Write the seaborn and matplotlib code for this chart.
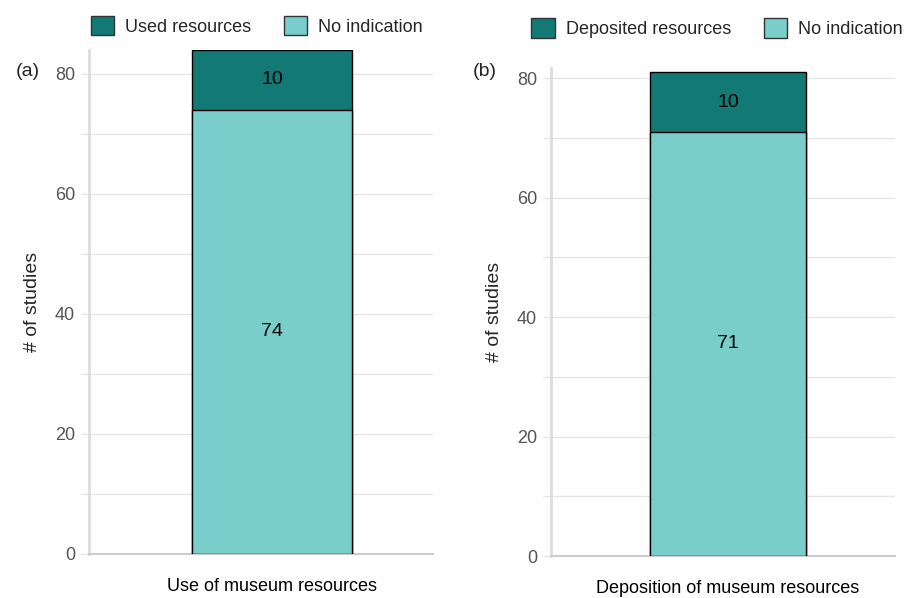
import matplotlib
matplotlib.use("Agg")
import matplotlib.pyplot as plt
from matplotlib.patches import Patch
import seaborn as sns
import pandas as pd

sns.set_theme(style="white")
plt.rcParams["font.family"] = ["Liberation Sans", "DejaVu Sans"]

# Panel (a): use of museum resources
cat_a = ["Use of museum resources"]
used_a = [10]
noind_a = [74]
legend_a = ["Used resources", "No indication"]

# Panel (b): deposition of museum resources
cat_b = ["Deposition of museum resources"]
dep_b = [10]
noind_b = [71]
legend_b = ["Deposited resources", "No indication"]

panel_tags = ["(a)", "(b)"]
y_ticks = [0, 20, 40, 60, 80]

DARK = "#137975"
LIGHT = "#79CECB"
GRID = "#e6e6e6"
TICKTXT = "#555555"

fig = plt.figure(figsize=(9.11, 5.98), dpi=100)
ax_a = fig.add_axes([0.0977, 0.0736, 0.3776, 0.8428])
ax_b = fig.add_axes([0.6048, 0.0702, 0.3776, 0.8160])


def draw_panel(ax, cats, top_vals, base_vals, labels, xlim, ylim):
    totals = [t + b for t, b in zip(top_vals, base_vals)]
    df_tot = pd.DataFrame({"cat": cats, "n": totals})
    df_base = pd.DataFrame({"cat": cats, "n": base_vals})
    sns.barplot(data=df_tot, x="cat", y="n", color=DARK, saturation=1,
                width=0.8, edgecolor="black", linewidth=1.0, ax=ax, zorder=3)
    sns.barplot(data=df_base, x="cat", y="n", color=LIGHT, saturation=1,
                width=0.8, edgecolor="black", linewidth=1.0, ax=ax, zorder=3)
    for b, t in zip(base_vals, top_vals):
        ax.text(0, b / 2, f"{b}", ha="center", va="center", fontsize=14,
                color="black", zorder=5)
        ax.text(0, b + t / 2, f"{t}", ha="center", va="center", fontsize=14,
                color="black", zorder=5)

    ax.set_xlim(*xlim)
    ax.set_ylim(*ylim)
    ax.set_yticks(y_ticks)
    ax.set_yticks(range(10, int(ylim[1]) + 1, 20), minor=True)
    ax.yaxis.grid(True, which="both", color=GRID, linewidth=1.0, zorder=0)
    ax.tick_params(axis="y", which="both", length=6, color=GRID, width=1.0,
                   labelsize=13, labelcolor=TICKTXT, pad=4, left=True)
    ax.tick_params(axis="x", length=0, labelsize=13, pad=17, labelcolor="black")
    ax.set_ylabel("# of studies", fontsize=14, labelpad=10)
    ax.set_xlabel("")
    for s in ["top", "right"]:
        ax.spines[s].set_visible(False)
    ax.spines["left"].set_color("#dddddd")
    ax.spines["left"].set_linewidth(2.0)
    ax.spines["bottom"].set_color("#cccccc")
    ax.spines["bottom"].set_linewidth(1.5)

    handles = [Patch(facecolor=DARK, edgecolor="#333333", label=labels[0]),
               Patch(facecolor=LIGHT, edgecolor="#333333", label=labels[1])]
    ax.legend(handles=handles, loc="center", ncol=2, frameon=False,
              fontsize=13, handlelength=1.3, handleheight=1.3,
              handletextpad=0.6, columnspacing=1.8, borderaxespad=0)
    return ax


draw_panel(ax_a, cat_a, used_a, noind_a, legend_a, (-0.915, 0.805), (0, 84))
draw_panel(ax_b, cat_b, dep_b, noind_b, legend_b, (-0.908, 0.856), (0, 81.7))

# legends sit above each panel, placed in figure coordinates
ax_a.get_legend().set_bbox_to_anchor((0.282, 0.957), transform=fig.transFigure)
ax_b.get_legend().set_bbox_to_anchor((0.787, 0.953), transform=fig.transFigure)

fig.text(0.017, 0.880, panel_tags[0], fontsize=14, ha="left", va="center")
fig.text(0.519, 0.880, panel_tags[1], fontsize=14, ha="left", va="center")

fig.savefig("out.png", dpi=100)
